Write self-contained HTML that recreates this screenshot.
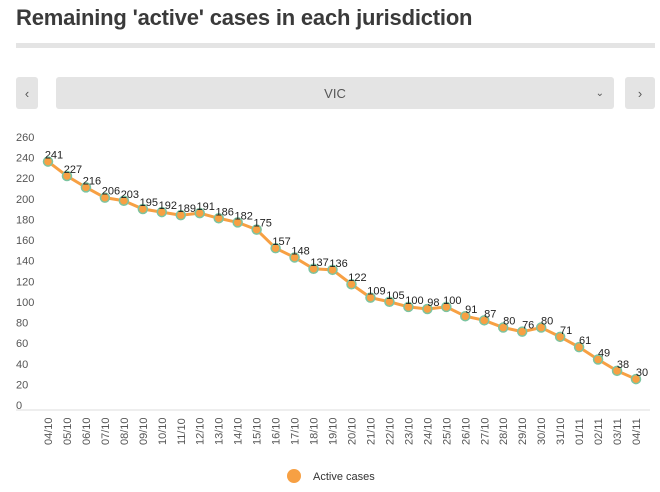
<!DOCTYPE html>
<html><head><meta charset="utf-8"><style>
body{margin:0;width:660px;height:492px;background:#fff;font-family:"Liberation Sans",sans-serif;overflow:hidden;position:relative}
.t{position:absolute;left:16px;top:5px;font-size:22px;font-weight:bold;color:#3a3a3a;letter-spacing:-0.2px}
.bar{position:absolute;left:16px;top:43px;width:639px;height:5px;background:#e4e4e4}
.btn{position:absolute;top:77px;height:32px;background:#e4e4e4;border-radius:3px;color:#555;font-size:13px;display:flex;align-items:center;justify-content:center}
</style></head><body>
<div class="t">Remaining 'active' cases in each jurisdiction</div>
<div class="bar"></div>
<div class="btn" style="left:16px;width:22px">‹</div>
<div class="btn" style="left:56px;width:558px">VIC<span style="position:absolute;right:10px;font-size:10px">⌄</span></div>
<div class="btn" style="left:625px;width:30px">›</div>
<svg id="c" width="660" height="492" style="position:absolute;left:0;top:0"></svg>
<script>
const labels=["04/10","05/10","06/10","07/10","08/10","09/10","10/10","11/10","12/10","13/10","14/10","15/10","16/10","17/10","18/10","19/10","20/10","21/10","22/10","23/10","24/10","25/10","26/10","27/10","28/10","29/10","30/10","31/10","01/11","02/11","03/11","04/11"];
const values=[241,227,216,206,203,195,192,189,191,186,182,175,157,148,137,136,122,109,105,100,98,100,91,87,80,76,80,71,61,49,38,30];
const yTicks=[0,20,40,60,80,100,120,140,160,180,200,220,240,260];
const svg=document.getElementById('c');const NS='http://www.w3.org/2000/svg';
const x=i=>48+i*(588/(labels.length-1));
const y=v=>410-v*268/260;
function mk(t,a,txt){const e=document.createElementNS(NS,t);for(const k in a)e.setAttribute(k,a[k]);if(txt!=null)e.textContent=txt;svg.appendChild(e);return e;}
yTicks.forEach(v=>{const e=mk('text',{x:16,y:y(v)-1,'font-size':11,fill:'#555'},v);

});
const ax=mk('line',{x1:16,x2:650,y1:410,y2:410,stroke:'#ddd','stroke-width':1});


labels.forEach((l,i)=>{const e=mk('text',{transform:`translate(${x(i)+4},${445}) rotate(-90)`,'font-size':11,fill:'#555'},l);

});
const p=mk('polyline',{points:values.map((v,i)=>x(i)+','+y(v)).join(' '),fill:'none',stroke:'#f7a043','stroke-width':3});


values.forEach((v,i)=>{const c=mk('circle',{cx:x(i),cy:y(v),r:4.5,fill:'#f7a043',stroke:'#7cc4a0','stroke-width':1.5});


const t=mk('text',{x:x(i)+6,y:y(v)-3,'font-size':11,fill:'#222','text-anchor':'middle'},v);

});
const lc=mk('circle',{cx:294,cy:476,r:7,fill:'#f7a043'});


const lt=mk('text',{x:313,y:480,'font-size':11,fill:'#333'},'Active cases');


</script>
</body></html>
